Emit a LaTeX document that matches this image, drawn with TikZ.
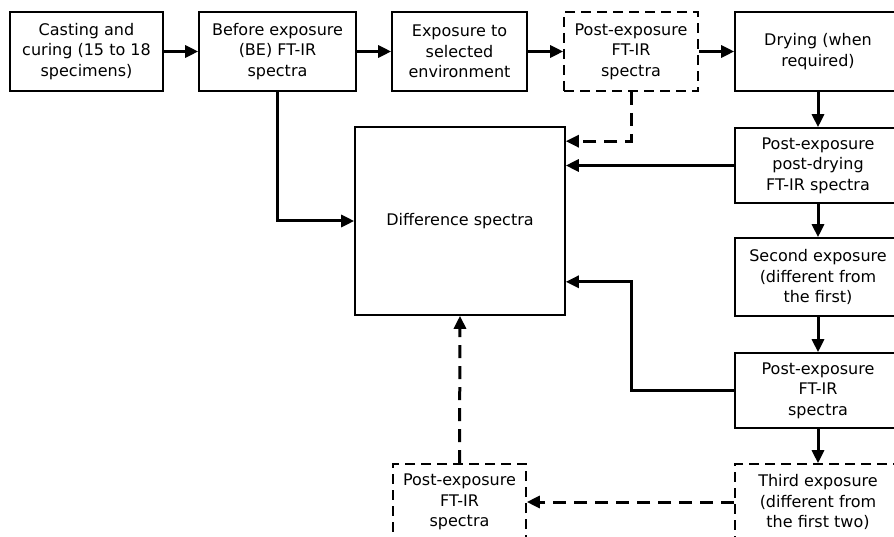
\documentclass[tikz,border=0pt]{standalone}
\usepackage{fontspec}
\setmainfont{DejaVu Sans}
\usetikzlibrary{arrows.meta,calc,positioning}

\begin{document}
\begin{tikzpicture}[x=1pt, y=-1pt,
		box/.style={draw, line width=1.6pt, inner sep=0pt, align=center, font=\fontsize{16}{20.5}\selectfont},
		dbox/.style={box, dash pattern=on 10pt off 6pt},
		flow/.style={line width=3pt, -{Triangle[length=13pt,width=12pt]}},
		dflow/.style={flow, dash pattern=on 13pt off 8pt}]
		\useasboundingbox (0,0) rectangle (894,537);
		% top row
		\node[box, minimum width=153, minimum height=79] (cast) at (86.5,51.5) {Casting and\\curing (15 to 18\\specimens)};
		\node[box, minimum width=157, minimum height=79] (before) at (277.5,51.5) {Before exposure\\(BE) FT-IR\\spectra};
		\node[box, minimum width=135, minimum height=79] (expose) at (459.5,51.5) {Exposure to\\selected\\environment};
		\node[dbox, minimum width=134, minimum height=79] (postA) at (631,51.5) {Post-exposure\\FT-IR\\spectra};
		\node[box, minimum width=166, minimum height=79] (drying) at (818,51.5) {Drying (when\\required)};
		% middle
		\node[box, minimum width=210, minimum height=188] (diff) at (460,221) {Difference spectra};
		% right column
		\node[box, minimum width=166, minimum height=75] (postB) at (818,165.5) {Post-exposure\\post-drying\\FT-IR spectra};
		\node[box, minimum width=166, minimum height=78] (second) at (818,277) {Second exposure\\(different from\\the first)};
		\node[box, minimum width=166, minimum height=75] (postC) at (818,390.5) {Post-exposure\\FT-IR\\spectra};
		\node[dbox, minimum width=166, minimum height=76] (third) at (818,502) {Third exposure\\(different from\\the first two)};
		\node[dbox, minimum width=133, minimum height=76] (postD) at (459.5,502) {Post-exposure\\FT-IR\\spectra};
		% connectors
		\draw[flow] (cast) -- (before);
		\draw[flow] (before) -- (expose);
		\draw[flow] (expose) -- (postA);
		\draw[flow] (postA) -- (drying);
		\draw[flow] (drying) -- (postB);
		\draw[flow] (postB) -- (second);
		\draw[flow] (second) -- (postC);
		\draw[flow] (postC) -- (third);
		\draw[flow] (before.south) |- (diff.west);
		\draw[dflow] (postA.south) |- ([yshift=-15pt]diff.north east);
		\draw[flow] (postB.west) -- (postB.west -| diff.east);
		\draw[flow] (postC.west) -- (postC.west -| postA.south) |- ([yshift=34pt]diff.south east);
		\draw[dflow] (third.west) -- (postD.east);
		\draw[dflow] (postD.north) -- (diff.south);
	\end{tikzpicture}
\end{document}
